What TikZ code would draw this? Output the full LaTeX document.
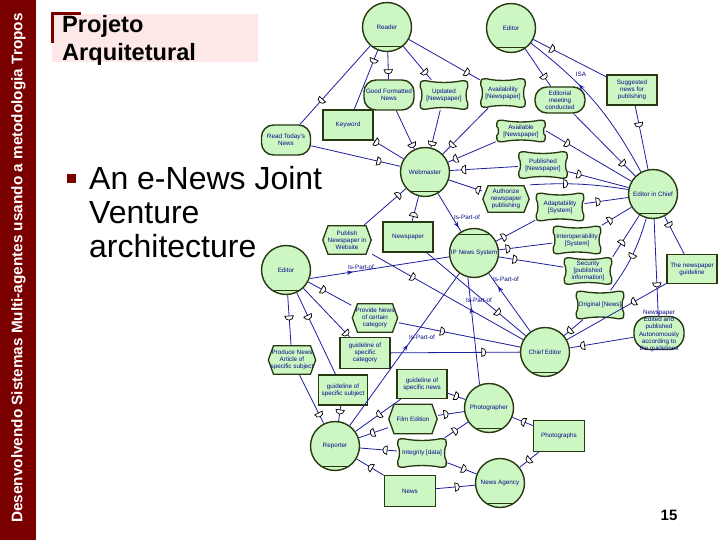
\documentclass[tikz,border=0pt]{standalone}
\usepackage{fontspec}
\setmainfont{Liberation Sans}
\usetikzlibrary{decorations.markings,arrows.meta}
\definecolor{nodef}{RGB}{204,246,194}
\definecolor{nodeb}{RGB}{40,56,16}
\definecolor{linkc}{RGB}{30,30,160}
\definecolor{txtc}{RGB}{10,10,140}
\definecolor{barred}{RGB}{122,0,0}
\definecolor{titlebg}{RGB}{253,231,231}
\tikzset{
  dtext/.style={font=\fontsize{6.3}{6.8}\selectfont, text=txtc, align=center, inner sep=0pt},
  actor/.style={dtext, circle, minimum size=49pt, draw=nodeb, fill=nodef, line width=1.4pt,
     path picture={\draw[nodeb,line width=1pt] ([yshift=4.5pt]path picture bounding box.south west) -- ([yshift=4.5pt]path picture bounding box.south east);}},
  actortop/.style={dtext, circle, minimum size=49pt, draw=nodeb, fill=nodef, line width=1.4pt,
     path picture={\draw[nodeb,line width=1pt] ([yshift=-6pt]path picture bounding box.north west) -- ([yshift=-6pt]path picture bounding box.north east);}},
  res/.style={dtext, rectangle, draw=nodeb, fill=nodef, line width=1.5pt, minimum width=50pt, minimum height=30pt},
  goal/.style={dtext, rectangle, rounded corners=12pt, draw=nodeb, fill=nodef, line width=1.4pt, minimum width=50pt, minimum height=27pt},
  task/.style={dtext, rectangle, minimum width=50pt, minimum height=30pt,
     path picture={\draw[draw=nodeb,fill=nodef,line width=1.3pt]
       ([xshift=0.8pt]path picture bounding box.west) -- ([shift={(6pt,-0.8pt)}]path picture bounding box.north west)
       -- ([shift={(-6pt,-0.8pt)}]path picture bounding box.north east) -- ([xshift=-0.8pt]path picture bounding box.east)
       -- ([shift={(-6pt,0.8pt)}]path picture bounding box.south east) -- ([shift={(6pt,0.8pt)}]path picture bounding box.south west) -- cycle;}},
  soft/.style={dtext, rectangle, minimum width=49pt, minimum height=29pt,
     path picture={\draw[draw=nodeb,fill=nodef,line width=1.3pt]
       ([shift={(0.8pt,7pt)}]path picture bounding box.south west)
       .. controls ([shift={(0.8pt,0.8pt)}]path picture bounding box.south west) .. ([shift={(7pt,0.8pt)}]path picture bounding box.south west)
       .. controls ([shift={(-8pt,3pt)}]path picture bounding box.south) and ([shift={(8pt,3pt)}]path picture bounding box.south) .. ([shift={(-7pt,0.8pt)}]path picture bounding box.south east)
       .. controls ([shift={(-0.8pt,0.8pt)}]path picture bounding box.south east) .. ([shift={(-0.8pt,7pt)}]path picture bounding box.south east)
       .. controls ([shift={(-3pt,-5pt)}]path picture bounding box.east) and ([shift={(-3pt,5pt)}]path picture bounding box.east) .. ([shift={(-0.8pt,-7pt)}]path picture bounding box.north east)
       .. controls ([shift={(-0.8pt,-0.8pt)}]path picture bounding box.north east) .. ([shift={(-7pt,-0.8pt)}]path picture bounding box.north east)
       .. controls ([shift={(8pt,-3pt)}]path picture bounding box.north) and ([shift={(-8pt,-3pt)}]path picture bounding box.north) .. ([shift={(7pt,-0.8pt)}]path picture bounding box.north west)
       .. controls ([shift={(0.8pt,-0.8pt)}]path picture bounding box.north west) .. ([shift={(0.8pt,-7pt)}]path picture bounding box.north west)
       .. controls ([shift={(3pt,5pt)}]path picture bounding box.west) and ([shift={(3pt,-5pt)}]path picture bounding box.west) .. cycle;}},
  lnk/.style={draw=linkc, line width=0.8pt},
  dep/.style={postaction={decorate,decoration={markings,mark=at position #1 with {\draw[black,fill=white,line width=0.7pt] (-2pt,-4.2pt) -- (-2pt,4.2pt) arc[start angle=90,end angle=-90,radius=4.2pt] -- cycle;}}}},
  ispart/.style={postaction={decorate,decoration={markings,mark=at position #1 with {\arrow[linkc]{Stealth[length=6pt,width=4.5pt]}}}}},
}
\begin{document}
\begin{tikzpicture}[x=1pt,y=-1pt]
\useasboundingbox (0,0) rectangle (720,540);
\fill[white] (0,0) rectangle (720,540);
% side bar and title
\fill[barred] (0,0) rectangle (36,540);
\node[rotate=90, text=white, font=\bfseries\fontsize{15.3}{16}\selectfont, inner sep=0pt] (side) at (18.5,268) {Desenvolvendo Sistemas Multi-agentes usando a metodologia Tropos};
\fill[titlebg] (52,14) rectangle (258,62);
\fill[barred] (50.5,12) rectangle (53.5,43);
\fill[barred] (50.5,12) rectangle (81,15);
\node[anchor=base west, inner sep=0pt, font=\bfseries\fontsize{23.6}{28}\selectfont] (t1) at (62,33) {Projeto};
\node[anchor=base west, inner sep=0pt, font=\bfseries\fontsize{23.6}{28}\selectfont] (t2) at (62,61) {Arquitetural};
\node[fill=barred, minimum size=9pt, inner sep=0pt] (bullet) at (71,179) {};
\node[anchor=base west, inner sep=0pt, font=\fontsize{32}{36}\selectfont] (b1) at (89,190) {An e-News Joint};
\node[anchor=base west, inner sep=0pt, font=\fontsize{32}{36}\selectfont] (b2) at (89,224) {Venture};
\node[anchor=base west, inner sep=0pt, font=\fontsize{32}{36}\selectfont] (b3) at (89,257) {architecture};
\node[anchor=base, inner sep=0pt, font=\bfseries\fontsize{15}{16}\selectfont] (pg) at (669,520) {15};
% nodes
\node[actor] (reader) at (387,27) {Reader};
\node[actor] (editorT) at (511,28) {Editor};
\node[goal, minimum height=30pt] (gfn) at (389,95) {Good Formatted\\News};
\node[soft, minimum height=30pt] (upd) at (444,95) {Updated\\{}[Newspaper]};
\node[soft, minimum width=46pt, minimum height=30pt] (avty) at (503,93) {Availability\\{}[Newspaper]};
\node[goal, minimum height=26pt] (emc) at (560,100) {Editorial\\meeting\\conducted};
\node[res] (sugg) at (632,90) {Suggested\\news for\\publishing};
\node[res] (keyw) at (348,125) {Keyword};
\node[goal, minimum width=49pt, minimum height=30pt] (rtn) at (286,140) {Read Today's\\News};
\node[soft, minimum width=50pt, minimum height=23pt] (avail) at (521,131) {Available\\{}[Newspaper]};
\node[soft, minimum width=50pt, minimum height=28pt] (publ) at (543,165) {Published\\{}[Newspaper]};
\node[actor] (wm) at (425,172) {Webmaster};
\node[task, minimum width=48pt, minimum height=28pt] (auth) at (506,199) {Authorize\\newspaper\\publishing};
\node[soft] (adapt) at (560,207) {Adaptability\\{}[System]};
\node[soft] (interop) at (577,240) {Interoperability\\{}[System]};
\node[soft, minimum height=28pt] (secur) at (588,271) {Security\\{}[published\\information]};
\node[actor] (eic) at (653,194) {Editor in Chief};
\node[res, minimum height=29pt] (guide) at (692,269) {The newspaper\\guideline};
\node[soft] (orig) at (600,305) {Original [News]};
\node[goal, rounded corners=15pt, minimum height=33pt] (nea) at (659,333) {};
\node[dtext, font=\fontsize{6.3}{7.2}\selectfont] (nealbl) at (659,331) {Newspaper\\Edited and\\published\\Autonomously\\according to\\the guidelines};
\node[actor] (chief) at (545,352) {Chief Editor};
\node[task] (pnw) at (347,240) {Publish\\Newspaper in\\Website};
\node[res] (newsp) at (408,237) {Newspaper};
\node[actortop] (ips) at (474,253) {IP News System};
\node[actor] (editorL) at (286,270) {Editor};
\node[task, minimum width=47pt] (provn) at (375,318) {Provide News\\of certain\\category};
\node[task, minimum width=49pt] (produce) at (292,360) {Produce News\\Article of\\specific subject};
\node[res, minimum height=31pt] (gcat) at (365,353) {guideline of\\specific\\category};
\node[res, minimum width=49pt] (gsubj) at (343,390) {guideline of\\specific subject};
\node[res, minimum height=29pt] (gnews) at (422,384) {guideline of\\specific news};
\node[actor] (photog) at (489,408) {Photographer};
\node[actor] (reporter) at (335,446) {Reporter};
\node[task, minimum height=31pt] (film) at (413,419) {Film Edition};
\node[soft, minimum width=50pt, minimum height=30pt] (integ) at (422,453) {Integrity [data]};
\node[res, minimum width=51pt, minimum height=31pt] (news) at (410,491) {News};
\node[actor] (agency) at (500,483) {News Agency};
\node[res, minimum width=51pt, minimum height=31pt] (photos) at (559,436) {Photographs};
% links
\draw[lnk,dep=0.7] (reader) -- (rtn);
\draw[lnk,dep=0.18] (reader) -- (keyw);
\draw[lnk,dep=0.72] (reader) -- (gfn);
\draw[lnk,dep=0.78] (reader) -- (upd);
\draw[lnk,dep=0.82] (reader) -- (avty);
\draw[lnk,dep=0.1] (keyw) -- (wm);
\draw[lnk,dep=0.76] (rtn) -- (wm);
\draw[lnk,dep=0.9] (gfn) -- (wm);
\draw[lnk,dep=0.9] (upd) -- (wm);
\draw[lnk,dep=0.8] (avty) -- (wm);
\draw[lnk,dep=0.85] (avail) -- (wm);
\draw[lnk,dep=0.8] (publ) -- (wm);
\draw[lnk,dep=0.12] (auth) -- (wm);
\draw[lnk,dep=0.82] (pnw) -- (wm);
\draw[lnk,dep=0.27] (newsp) -- (wm);
\draw[lnk,ispart=0.9] (wm) -- (ips);
\node[dtext] (l1) at (467,217) {Is-Part-of};
\draw[lnk,dep=0.75] (editorT) -- (emc);
\draw[lnk,dep=0.26] (editorT) -- (sugg);
\draw[lnk,ispart=0.63] (eic) to[bend right=12] (editorT);
\node[dtext] (lisa) at (581,74) {ISA};
\draw[lnk,dep=0.8] (emc) -- (eic);
\draw[lnk,dep=0.3] (sugg) -- (eic);
\draw[lnk,dep=0.25] (avail.east) -- (eic);
\draw[lnk,dep=0.18] (publ) -- (eic);
\draw[lnk,dep=0.36] (auth.north east) to[bend left=6] (eic);
\draw[lnk,dep=0.31] (adapt) -- (eic);
\draw[lnk,dep=0.28] (interop.north east) -- (eic);
\draw[lnk,dep=0.35] (secur.north east) -- (eic);
\draw[lnk,dep=0.5] (eic) to[bend left=10] (orig);
\draw[lnk,dep=0.68] (eic) -- (nea);
\draw[lnk,dep=0.23] (eic) -- (guide);
\draw[lnk,dep=0.33] (guide) -- (chief);
\draw[lnk,dep=0.8] (nea) -- (chief);
\draw[lnk,dep=0.7] (orig) -- (chief);
\draw[lnk,dep=0.27] (pnw) -- (chief);
\draw[lnk,dep=0.72] (newsp) -- (chief);
\draw[lnk,dep=0.36] (provn) -- (chief);
\draw[lnk,dep=0.72] (gcat) -- (chief);
\draw[lnk,ispart=0.78] (chief) -- (ips);
\node[dtext] (l2) at (506,279) {Is-Part-of};
\draw[lnk,dep=0.2] (ips) -- (adapt);
\draw[lnk,dep=0.17] (ips) -- (interop);
\draw[lnk,dep=0.25] (ips) -- (secur);
\draw[lnk,ispart=0.31] (editorL.-20) -- (ips);
\node[dtext] (l3) at (361,267) {Is-Part-of};
\draw[lnk,dep=0.35] (editorL) -- (provn);
\draw[lnk,dep=0.93] (editorL) -- (gcat);
\draw[lnk,dep=0.46] (editorL) -- (produce);
\draw[lnk,dep=0.3] (editorL) -- (gsubj);
\draw[lnk,dep=0.82] (produce) -- (reporter);
\draw[lnk,dep=0.4] (gsubj) -- (reporter);
\draw[lnk,dep=0.48] (gnews) -- (reporter);
\draw[lnk,dep=0.5] (gnews) -- (photog);
\draw[lnk,dep=0.53] (film) -- (reporter);
\draw[lnk,dep=0.3] (film) -- (photog);
\draw[lnk,dep=0.32] (integ) -- (reporter);
\draw[lnk,dep=0.45] (integ) -- (photog);
\draw[lnk,dep=0.57] (integ) -- (agency);
\draw[lnk,dep=0.49] (news) -- (reporter);
\draw[lnk,dep=0.54] (news) -- (agency);
\draw[lnk,dep=0.47] (photos) -- (photog);
\draw[lnk,dep=0.53] (photos) -- (agency);
\draw[lnk,ispart=0.72] (photog.112) -- (ips.256);
\node[dtext] (l4) at (479,300) {Is-Part-of};
\draw[lnk,ispart=0.53] (reporter) -- (ips);
\node[dtext] (l5) at (422,337) {Is-Part-of};
\end{tikzpicture}
\end{document}
